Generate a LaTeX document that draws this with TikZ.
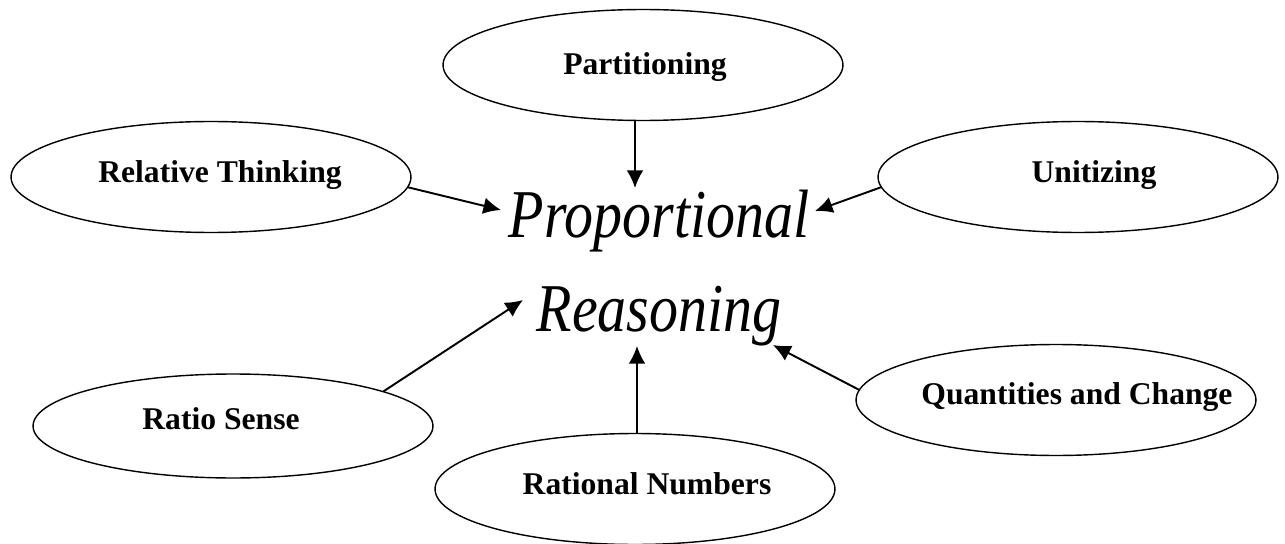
\documentclass[tikz,border=0pt]{standalone}
\usepackage{fontspec}
\usepackage{graphicx}
\setmainfont{Liberation Serif}
\usetikzlibrary{shapes.geometric,arrows.meta}
\tikzset{
  oval/.style={draw=black, line width=0.8pt, ellipse, inner sep=0pt,
               minimum width=8cm, minimum height=2.22cm},
  lbl/.style={font=\bfseries\fontsize{18}{21}\selectfont, inner sep=0pt},
  big/.style={font=\itshape\fontsize{33}{38}\selectfont, inner sep=0pt, anchor=base},
  arr/.style={line width=1.1pt, -{Latex[length=10pt,width=9.5pt]}}
}
\begin{document}
\begin{tikzpicture}[x=0.02cm,y=-0.02cm]
\useasboundingbox (0,0) rectangle (1285,544);
% ellipses
\node[oval] (part) at (643,65) {};
\node[oval] (rel) at (211,177) {};
\node[oval] (unit) at (1078,177) {};
\node[oval, minimum height=2.08cm] (ratio) at (233,426) {};
\node[oval] (rat) at (635,489) {};
\node[oval] (quant) at (1056,400) {};
% labels
\node[lbl] (partT) at (645,67) {Partitioning};
\node[lbl] (relT) at (220,175) {Relative Thinking};
\node[lbl] (unitT) at (1094,175) {Unitizing};
\node[lbl] (ratioT) at (221,419) {Ratio Sense};
\node[lbl] (ratT) at (647,484) {Rational Numbers};
\node[lbl] (quantT) at (1077,397) {Quantities and Change};
% central text
\node[big] (prop) at (659,237) {\scalebox{1}[1.18]{Proportional}};
\node[big] (reas) at (659,331) {\scalebox{1}[1.18]{Reasoning}};
% arrow tips
\coordinate (t1) at (501,210);
\coordinate (t2) at (635,188);
\coordinate (t3) at (815,211);
\coordinate (t4) at (523,300);
\coordinate (t5) at (637,346);
\coordinate (t6) at (773,345);
% arrows
\draw[arr] (rel.-3) -- (t1);
\draw[arr] (t2 |- part.south) -- (t2);
\draw[arr] (unit.183) -- (t3);
\draw[arr] (ratio.13) -- (t4);
\draw[arr] (t5 |- rat.north) -- (t5);
\draw[arr] (quant.177) -- (t6);
\end{tikzpicture}
\end{document}
